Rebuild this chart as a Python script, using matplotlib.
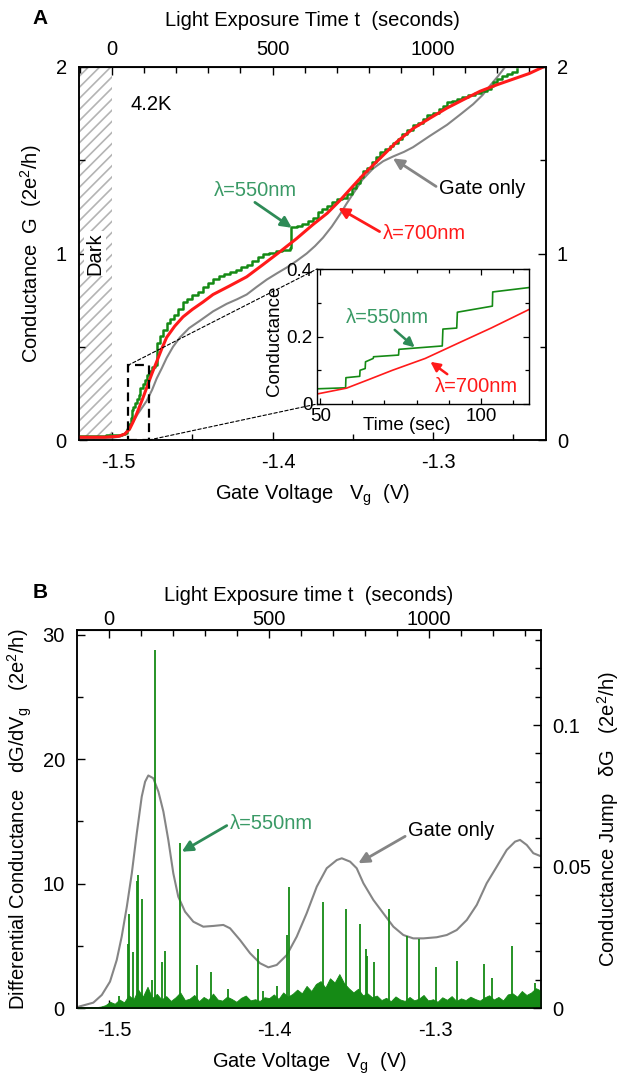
import numpy as np
import matplotlib
matplotlib.use('Agg')
import matplotlib.pyplot as plt
from matplotlib.ticker import MultipleLocator, FixedLocator, FuncFormatter
from matplotlib.patches import ConnectionPatch, Rectangle
from matplotlib.transforms import ScaledTranslation

plt.rcParams['font.family'] = ['Liberation Sans', 'DejaVu Sans']
plt.rcParams['mathtext.fontset'] = 'custom'
plt.rcParams['mathtext.rm'] = 'Liberation Sans'
plt.rcParams['mathtext.it'] = 'Liberation Sans:italic'
plt.rcParams['hatch.linewidth'] = 1.2
plt.rcParams['hatch.color'] = '#b4b4b4'
plt.rcParams['axes.unicode_minus'] = False

# ---------------- data: panel A ----------------
gate_v = [-1.5205, -1.5000, -1.4950, -1.4920, -1.4888, -1.4840, -1.4784, -1.4750, -1.4722,
          -1.4690, -1.4660, -1.4620, -1.4577, -1.4520, -1.4452, -1.4370, -1.4286, -1.4220,
          -1.4161, -1.4100, -1.4036, -1.3970, -1.3911, -1.3850, -1.3787, -1.3735, -1.3685,
          -1.3630, -1.3579, -1.3540, -1.3498, -1.3440, -1.3374, -1.3310, -1.3249, -1.3180,
          -1.3124, -1.3020, -1.2912, -1.2830, -1.2750, -1.2690, -1.2644, -1.2595, -1.2550,
          -1.2520]
gate_g = [0.010, 0.012, 0.018, 0.035, 0.070, 0.140, 0.210, 0.270, 0.330,
          0.385, 0.440, 0.500, 0.550, 0.600, 0.640, 0.690, 0.730, 0.755,
          0.780, 0.820, 0.860, 0.895, 0.925, 0.960, 1.000, 1.040, 1.085,
          1.145, 1.210, 1.265, 1.320, 1.395, 1.455, 1.495, 1.520, 1.545,
          1.570, 1.630, 1.690, 1.745, 1.800, 1.850, 1.900, 1.950, 2.000,
          2.040]

red_v = [-1.5205, -1.5050, -1.4960, -1.4920, -1.4890, -1.4870, -1.4847, -1.4810, -1.4776,
         -1.4750, -1.4722, -1.4690, -1.4660, -1.4610, -1.4558, -1.4500, -1.4433, -1.4371,
         -1.4270, -1.4161, -1.4060, -1.3953, -1.3850, -1.3748, -1.3660, -1.3579, -1.3500,
         -1.3436, -1.3330, -1.3230, -1.3124, -1.3020, -1.2912, -1.2810, -1.2706, -1.2600,
         -1.2500, -1.2400, -1.2313]
red_g = [0.015, 0.015, 0.020, 0.032, 0.060, 0.095, 0.140, 0.220, 0.300,
         0.360, 0.420, 0.490, 0.550, 0.610, 0.660, 0.700, 0.740, 0.780,
         0.825, 0.875, 0.940, 1.010, 1.080, 1.155, 1.215, 1.285, 1.360,
         1.420, 1.510, 1.595, 1.670, 1.725, 1.780, 1.825, 1.870, 1.905,
         1.935, 1.965, 2.000]

green_v = [-1.5205, -1.5100, -1.5040, -1.4980, -1.4940, -1.4920, -1.4905, -1.4895, -1.4885,
           -1.4878, -1.4868, -1.4855, -1.4847, -1.4835, -1.4826, -1.4810, -1.4795, -1.4784,
           -1.4770, -1.4750, -1.4735, -1.4722, -1.4700, -1.4680, -1.4660, -1.4640, -1.4615,
           -1.4590, -1.4560, -1.4530, -1.4500, -1.4465, -1.4433, -1.4400, -1.4371, -1.4335,
           -1.4300, -1.4265, -1.4230, -1.4195, -1.4161, -1.4125, -1.4090, -1.4059, -1.4020,
           -1.3980, -1.3940, -1.3891, -1.3885, -1.3850, -1.3815, -1.3780, -1.3748, -1.3715,
           -1.3690, -1.3660, -1.3630, -1.3600, -1.3565, -1.3536, -1.3505, -1.3480, -1.3455,
           -1.3436, -1.3410, -1.3380, -1.3355, -1.3330, -1.3300, -1.3270, -1.3250, -1.3220,
           -1.3190, -1.3160, -1.3124, -1.3090, -1.3060, -1.3037, -1.3000, -1.2960, -1.2935,
           -1.2912, -1.2880, -1.2850, -1.2820, -1.2780, -1.2740, -1.2700, -1.2662, -1.2640,
           -1.2625, -1.2600, -1.2570, -1.2540, -1.2510, -1.2475]
green_g = [0.020, 0.022, 0.025, 0.028, 0.032, 0.040, 0.060, 0.085, 0.120,
           0.160, 0.175, 0.200, 0.220, 0.240, 0.280, 0.300, 0.320, 0.350,
           0.370, 0.390, 0.400, 0.520, 0.560, 0.590, 0.630, 0.650, 0.670,
           0.700, 0.740, 0.755, 0.775, 0.795, 0.820, 0.840, 0.865, 0.880,
           0.890, 0.900, 0.910, 0.925, 0.940, 0.960, 0.980, 0.995, 1.005,
           1.015, 1.020, 1.030, 1.140, 1.150, 1.160, 1.175, 1.190, 1.220,
           1.240, 1.255, 1.275, 1.290, 1.300, 1.320, 1.350, 1.380, 1.410,
           1.440, 1.460, 1.490, 1.520, 1.545, 1.560, 1.575, 1.595, 1.615,
           1.640, 1.660, 1.690, 1.700, 1.720, 1.740, 1.755, 1.775, 1.790,
           1.810, 1.820, 1.830, 1.840, 1.850, 1.860, 1.870, 1.880, 1.900,
           1.920, 1.935, 1.950, 1.965, 1.975, 1.990]

# inset (time in seconds)
in_green_t = [49.0, 57.9, 58.0, 62.3, 62.4, 64.0, 64.1, 66.5, 66.6, 74.4, 74.5, 88.0,
              88.2, 92.5, 92.7, 103.6, 103.7, 115.0]
in_green_g = [0.045, 0.048, 0.078, 0.082, 0.100, 0.105, 0.125, 0.135, 0.140, 0.145, 0.162, 0.172,
              0.222, 0.225, 0.272, 0.290, 0.332, 0.345]
in_red_t = [49.2, 58.2, 65.0, 72.5, 82.7, 92.9, 103.2, 115.0]
in_red_g = [0.030, 0.047, 0.072, 0.100, 0.135, 0.180, 0.225, 0.280]

# ---------------- data: panel B ----------------
dgdv_v = [-1.5188, -1.5095, -1.5042, -1.4991, -1.4949, -1.4918, -1.4886, -1.4855, -1.4824,
          -1.4793, -1.4772, -1.4752, -1.4721, -1.4689, -1.4658, -1.4627, -1.4596, -1.4565,
          -1.4523, -1.4471, -1.4409, -1.4346, -1.4284, -1.4242, -1.4180, -1.4117, -1.4055,
          -1.4003, -1.3951, -1.3888, -1.3826, -1.3764, -1.3701, -1.3639, -1.3576, -1.3545,
          -1.3493, -1.3452, -1.3410, -1.3348, -1.3286, -1.3223, -1.3161, -1.3099, -1.3036,
          -1.2953, -1.2890, -1.2828, -1.2765, -1.2703, -1.2641, -1.2578, -1.2516, -1.2464,
          -1.2433, -1.2391, -1.2350, -1.2308]
dgdv = [0.10, 0.43, 1.05, 2.12, 3.86, 5.74, 8.15, 10.83, 14.05,
        17.0, 18.2, 18.7, 18.48, 17.4, 15.8, 13.5, 10.83, 8.95,
        7.75, 6.94, 6.54, 6.60, 6.68, 6.41, 5.47, 4.40, 3.60,
        3.27, 3.46, 4.26, 5.74, 7.62, 9.76, 11.24, 11.9, 12.04,
        11.77, 11.24, 10.03, 8.69, 7.62, 6.54, 5.87, 5.60, 5.60,
        5.69, 5.87, 6.27, 7.08, 8.29, 10.03, 11.37, 12.71, 13.38,
        13.52, 13.11, 12.45, 12.23]

spike_v = [-1.4933, -1.4880, -1.4870, -1.4849, -1.4824, -1.4816, -1.4791, -1.4730, -1.4712,
           -1.4666, -1.4646, -1.4554, -1.4450, -1.4362, -1.4253, -1.4065, -1.4034, -1.3951,
           -1.3885, -1.3876, -1.3660, -1.3520, -1.3431, -1.3396, -1.3389, -1.3344, -1.3250,
           -1.3140, -1.3061, -1.2957, -1.2828, -1.2658, -1.2608, -1.2485, -1.2339]
spike_dg = [0.0044, 0.0227, 0.0331, 0.0198, 0.0449, 0.0471, 0.0384, 0.0100, 0.1264,
            0.0161, 0.0201, 0.0584, 0.0153, 0.0129, 0.0068, 0.0209, 0.0061, 0.0078,
            0.0257, 0.0427, 0.0375, 0.0351, 0.0296, 0.0209, 0.0183, 0.0163, 0.0349,
            0.0253, 0.0244, 0.0144, 0.0166, 0.0157, 0.0105, 0.0218, 0.0087]

# background jump level, in units of 1e-3 (2e^2/h), evenly sampled across the sweep
noise_mdg = [0.2, 0.3, 0.2, 0.4, 0.3, 0.5,
             1.0, 2.2, 1.5, 3.0, 2.0,
             4.5, 3.0, 6.5, 4.0, 7.5, 3.5, 5.0,
             3.0, 4.2, 2.5, 3.8, 5.5, 2.8, 3.3, 4.6, 2.4, 3.9, 2.9, 5.1, 3.0, 2.6, 4.0, 3.2,
             2.2, 3.6, 4.4, 2.7, 3.1, 2.5, 3.8,
             3.5, 4.8, 3.2, 5.5, 4.0,
             5.0, 6.5, 5.2, 7.8, 6.0, 8.5, 9.5, 7.2, 10.5, 9.0, 12.0, 8.8,
             7.0, 5.5, 6.8, 4.5, 5.2, 3.8, 4.4,
             2.8, 3.6, 2.4, 4.1, 3.0, 2.5, 3.9, 2.7, 3.3, 4.6, 2.6, 3.1, 2.2, 3.8, 2.9, 4.2,
             2.5, 3.4, 2.8, 4.0, 3.2, 2.6, 3.7, 4.5, 3.0, 3.9, 2.7, 4.8,
             5.2, 4.0, 6.0, 4.6, 5.5, 7.0, 6.2]
noise_range = (-1.5195, -1.2305)

# ---------------- styles ----------------
GREEN = '#158a15'
GREEN_TXT = '#3a9a66'
RED = '#ff1a1a'
GRAY = '#858585'
FS = 14.5
FS_IN = 13.5


def v2t(v):
    return (np.asarray(v) + 1.5) * 5000.0


def t2v(t):
    return np.asarray(t) / 5000.0 - 1.5


fmt = FuncFormatter(lambda x, p: ('%g' % x))

fig = plt.figure(figsize=(6.21, 10.76), dpi=100)
shift = ScaledTranslation(6 / 100, 0, fig.dpi_scale_trans)


def style_axis(ax):
    for s in ax.spines.values():
        s.set_linewidth(1.1)
    ax.tick_params(which='major', direction='in', length=5.8, width=1.0, labelsize=FS)
    ax.tick_params(which='minor', direction='in', length=4.0, width=1.0)


def shift_xlabels(ax):
    for tk in ax.xaxis.get_major_ticks():
        tk.label1.set_transform(tk.label1.get_transform() + shift)


# ================= Panel A =================
axA = fig.add_axes([79.2 / 621, 1 - 440 / 1076, (545.7 - 79.2) / 621, (440 - 67) / 1076])
axA.set_xlim(-1.5205, -1.2297)
axA.set_ylim(0, 2)
style_axis(axA)
axA.xaxis.set_major_locator(FixedLocator([-1.5, -1.4, -1.3]))
axA.xaxis.set_minor_locator(MultipleLocator(0.05))
axA.yaxis.set_major_locator(FixedLocator([0, 1, 2]))
axA.yaxis.set_minor_locator(MultipleLocator(0.5))
axA.xaxis.set_major_formatter(fmt)
axA.yaxis.set_major_formatter(fmt)
axA.tick_params(axis='x', pad=9)
axA.tick_params(axis='y', pad=9)
shift_xlabels(axA)

axA.axvspan(-1.5205, -1.5, facecolor='white', edgecolor='#b4b4b4', hatch='///', lw=0, zorder=0)
axA.text(-1.5107, 1.0, 'Dark', rotation=90, ha='center', va='center', fontsize=FS,
         bbox=dict(facecolor='white', edgecolor='none', pad=1.0))
axA.text(-1.4888, 1.80, '4.2K', ha='left', va='center', fontsize=FS)

axA.plot(gate_v, gate_g, color=GRAY, lw=1.5, zorder=2)
axA.plot(green_v, green_g, color=GREEN, lw=1.8, drawstyle='steps-post', zorder=3)
axA.plot(red_v, red_g, color=RED, lw=2.2, zorder=4)

axA.set_xlabel('Gate Voltage   V$_\\mathregular{g}$  (V)', fontsize=FS, labelpad=8)
axA.set_ylabel('Conductance  G  (2e$^\\mathregular{2}$/h)', fontsize=FS, labelpad=8)

secA = axA.secondary_xaxis('top', functions=(v2t, t2v))
secA.xaxis.set_major_locator(FixedLocator([0, 500, 1000]))
secA.xaxis.set_minor_locator(MultipleLocator(100))
secA.xaxis.set_major_formatter(fmt)
secA.tick_params(which='major', direction='in', length=5.8, width=1.0, labelsize=FS, pad=6)
secA.tick_params(which='minor', direction='in', length=4.0, width=1.0)
secA.set_xlabel('Light Exposure Time t  (seconds)', fontsize=FS, labelpad=10)

axA2 = axA.twinx()
axA2.set_ylim(0, 2)
style_axis(axA2)
axA2.yaxis.set_major_locator(FixedLocator([0, 1, 2]))
axA2.yaxis.set_minor_locator(MultipleLocator(0.5))
axA2.yaxis.set_major_formatter(fmt)
axA2.tick_params(axis='y', pad=8)

arrA = dict(arrowstyle='-|>', lw=2.0, mutation_scale=16, shrinkA=0, shrinkB=0)
axA.annotate('λ=550nm', xy=(-1.388, 1.138), xytext=(-1.4109, 1.34), color=GREEN_TXT,
             fontsize=FS, ha='center', va='center', zorder=6,
             arrowprops=dict(color='#2e8b57', **arrA, relpos=(0.45, 0.0)))
axA.annotate('Gate only', xy=(-1.3249, 1.51), xytext=(-1.2694, 1.35), color='black',
             fontsize=FS, ha='center', va='center', zorder=6,
             arrowprops=dict(color=GRAY, **arrA, relpos=(0.0, 0.5)))
axA.annotate('λ=700nm', xy=(-1.359, 1.245), xytext=(-1.3056, 1.109), color=RED,
             fontsize=FS, ha='center', va='center', zorder=6,
             arrowprops=dict(color=RED, **arrA, relpos=(0.0, 0.5)))

# zoom box
t0, t1 = 49.0, 115.0
rect = Rectangle((t2v(t0), 0), t2v(t1) - t2v(t0), 0.4, fill=False, ls=(0, (4, 2.5)),
                 lw=1.6, edgecolor='black', zorder=5)
axA.add_patch(rect)

# inset
axI = fig.add_axes([317 / 621, 1 - 404 / 1076, 212 / 621, 135 / 1076])
axI.set_xlim(49, 115)
axI.set_ylim(0, 0.4)
for s in axI.spines.values():
    s.set_linewidth(1.0)
axI.tick_params(which='major', direction='in', length=4.5, width=0.9, labelsize=FS_IN,
                top=True, right=True, pad=3)
axI.tick_params(which='minor', direction='in', length=3.0, width=0.9, top=True, right=True)
axI.xaxis.set_major_locator(FixedLocator([50, 100]))
axI.xaxis.set_minor_locator(MultipleLocator(10))
axI.yaxis.set_major_locator(FixedLocator([0, 0.2, 0.4]))
axI.yaxis.set_minor_locator(MultipleLocator(0.1))
axI.xaxis.set_major_formatter(fmt)
axI.yaxis.set_major_formatter(fmt)
axI.plot(in_green_t, in_green_g, color=GREEN, lw=1.2)
axI.plot(in_red_t, in_red_g, color=RED, lw=1.2)
axI.text(0.423, -0.16, 'Time (sec)', transform=axI.transAxes, ha='center', va='center',
         fontsize=FS_IN)
axI.text(-0.20, 0.47, 'Conductance', transform=axI.transAxes, ha='center', va='center',
         rotation=90, fontsize=FS_IN)
arrI = dict(arrowstyle='-|>', lw=1.8, mutation_scale=14, shrinkA=0, shrinkB=0)
axI.annotate('λ=550nm', xy=(79.4, 0.168), xytext=(70.9, 0.256), color=GREEN_TXT,
             fontsize=FS, ha='center', va='center',
             arrowprops=dict(color='#2e8b57', **arrI, relpos=(0.55, 0.0)))
axI.annotate('λ=700nm', xy=(84.3, 0.125), xytext=(98.5, 0.052), color=RED,
             fontsize=FS, ha='center', va='center',
             arrowprops=dict(color=RED, **arrI, relpos=(0.2, 1.0)))

for (xa, ya), (xb, yb) in [((t2v(t0), 0.4), (0, 1)), ((t2v(t1), 0.0), (0, 0))]:
    con = ConnectionPatch(xyA=(xa, ya), coordsA=axA.transData, xyB=(xb, yb),
                          coordsB=axI.transAxes, ls=(0, (3, 2)), lw=0.8, color='black')
    fig.add_artist(con)

# ================= Panel B =================
axB = fig.add_axes([77.3 / 621, 1 - 1008 / 1076, (540.7 - 77.3) / 621, (1008 - 630) / 1076])
axB.set_xlim(-1.5195, -1.2304)
axB.set_ylim(0, 30.4)
style_axis(axB)
axB.xaxis.set_major_locator(FixedLocator([-1.5, -1.4, -1.3]))
axB.xaxis.set_minor_locator(MultipleLocator(0.02))
axB.yaxis.set_major_locator(FixedLocator([0, 10, 20, 30]))
axB.yaxis.set_minor_locator(MultipleLocator(5))
axB.xaxis.set_major_formatter(fmt)
axB.yaxis.set_major_formatter(fmt)
axB.tick_params(axis='x', pad=9)
axB.tick_params(axis='y', pad=9)
shift_xlabels(axB)
axB.plot(dgdv_v, dgdv, color=GRAY, lw=1.5)
axB.set_xlabel('Gate Voltage   V$_\\mathregular{g}$  (V)', fontsize=FS, labelpad=8)
axB.set_ylabel('Differential Conductance   dG/dV$_\\mathregular{g}$   (2e$^\\mathregular{2}$/h)',
               fontsize=FS, labelpad=6)

secB = axB.secondary_xaxis('top', functions=(v2t, t2v))
secB.xaxis.set_major_locator(FixedLocator([0, 500, 1000]))
secB.xaxis.set_minor_locator(MultipleLocator(100))
secB.xaxis.set_major_formatter(fmt)
secB.tick_params(which='major', direction='in', length=5.8, width=1.0, labelsize=FS, pad=1)
secB.tick_params(which='minor', direction='in', length=4.0, width=1.0)
secB.set_xlabel('Light Exposure time t  (seconds)', fontsize=FS, labelpad=6)

axB2 = axB.twinx()
axB2.set_ylim(0, 0.1336)
style_axis(axB2)
axB2.yaxis.set_major_locator(FixedLocator([0, 0.05, 0.1]))
axB2.yaxis.set_minor_locator(MultipleLocator(0.01))
axB2.yaxis.set_major_formatter(fmt)
axB2.tick_params(axis='y', pad=8)
axB2.set_ylabel('Conductance Jump   δG   (2e$^\\mathregular{2}$/h)', fontsize=FS, labelpad=3)

noise_v = np.linspace(noise_range[0], noise_range[1], len(noise_mdg))
noise = np.asarray(noise_mdg) * 1e-3
axB2.fill_between(noise_v, 0, noise, color=GREEN, lw=0.6, edgecolor=GREEN)
axB2.vlines(spike_v, 0, spike_dg, color=GREEN, lw=1.3)

arrB = dict(arrowstyle='-|>', lw=2.0, mutation_scale=16, shrinkA=0, shrinkB=0)
axB.annotate('λ=550nm', xy=(-1.4543, 12.57), xytext=(-1.3986, 14.8), color=GREEN_TXT,
             fontsize=FS, ha='center', va='center', zorder=6,
             arrowprops=dict(color='#2e8b57', **arrB, relpos=(0.0, 0.5)))
axB.annotate('Gate only', xy=(-1.3442, 11.64), xytext=(-1.2863, 14.24), color='black',
             fontsize=FS, ha='center', va='center', zorder=6,
             arrowprops=dict(color=GRAY, **arrB, relpos=(0.0, 0.3)))

fig.text(40 / 621, 1 - 18 / 1076, 'A', fontsize=15, fontweight='bold', ha='center', va='center')
fig.text(40 / 621, 1 - 592 / 1076, 'B', fontsize=15, fontweight='bold', ha='center', va='center')

fig.savefig('out.png', dpi=100)
